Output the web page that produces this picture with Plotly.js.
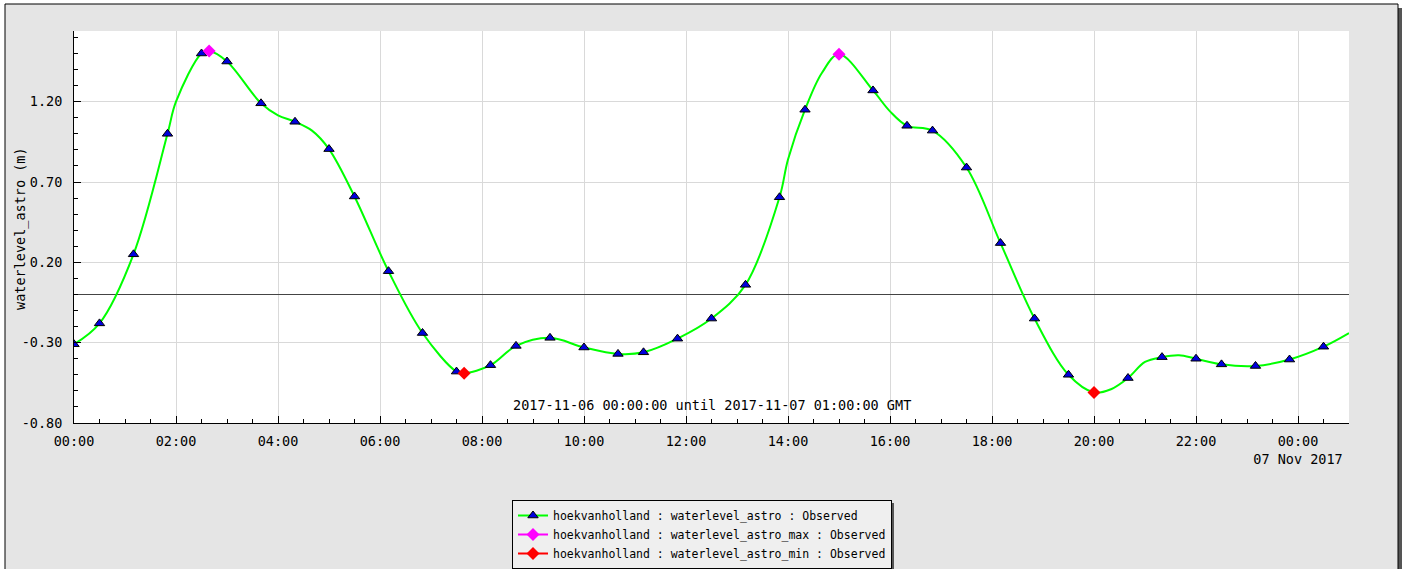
<!DOCTYPE html>
<html>
<head>
<meta charset="utf-8">
<script src="https://cdn.plot.ly/plotly-3.0.1.min.js"></script>
<style>
  html, body { margin: 0; padding: 0; background: #ffffff; overflow: hidden; }
  #chart { width: 1407px; height: 569px; }
</style>
</head>
<body>
<div id="chart"></div>
<script>
// ---- data ----
// observed astro water level, sampled points drawn with triangles
var astroTimes = [
  '2017-11-06 00:00', '2017-11-06 00:30', '2017-11-06 01:10', '2017-11-06 01:50',
  '2017-11-06 02:30', '2017-11-06 03:00', '2017-11-06 03:40', '2017-11-06 04:20',
  '2017-11-06 05:00', '2017-11-06 05:30', '2017-11-06 06:10', '2017-11-06 06:50',
  '2017-11-06 07:30', '2017-11-06 08:10', '2017-11-06 08:40', '2017-11-06 09:20',
  '2017-11-06 10:00', '2017-11-06 10:40', '2017-11-06 11:10', '2017-11-06 11:50',
  '2017-11-06 12:30', '2017-11-06 13:10', '2017-11-06 13:50', '2017-11-06 14:20',
  '2017-11-06 15:40', '2017-11-06 16:20', '2017-11-06 16:50', '2017-11-06 17:30',
  '2017-11-06 18:10', '2017-11-06 18:50', '2017-11-06 19:30', '2017-11-06 20:40',
  '2017-11-06 21:20', '2017-11-06 22:00', '2017-11-06 22:30', '2017-11-06 23:10',
  '2017-11-06 23:50', '2017-11-07 00:30'
];
var astroValues = [
  -0.31, -0.18, 0.25, 1.00,
  1.50, 1.45, 1.19, 1.075,
  0.905, 0.61, 0.145, -0.24,
  -0.48, -0.44, -0.32, -0.27,
  -0.33, -0.37, -0.36, -0.275,
  -0.15, 0.06, 0.605, 1.15,
  1.27, 1.05, 1.02, 0.79,
  0.32, -0.15, -0.50, -0.52,
  -0.39, -0.40, -0.435, -0.445,
  -0.405, -0.325
];
// further points of the same curve (no triangle drawn there)
var curveTimes = [
  '2017-11-06 02:00', '2017-11-06 02:39', '2017-11-06 04:00', '2017-11-06 04:40',
  '2017-11-06 07:39', '2017-11-06 14:00', '2017-11-06 14:40', '2017-11-06 15:00',
  '2017-11-06 16:00', '2017-11-06 20:00', '2017-11-06 20:20', '2017-11-06 21:00',
  '2017-11-06 21:40', '2017-11-07 01:00'
];
var curveValues = [
  1.20, 1.515, 1.115, 1.02,
  -0.49, 0.84, 1.38, 1.495,
  1.14, -0.61, -0.59, -0.42,
  -0.378, -0.24
];
// extremes
var maxTimes = ['2017-11-06 02:39', '2017-11-06 15:00'];
var maxValues = [1.515, 1.495];
var minTimes = ['2017-11-06 07:39', '2017-11-06 20:00'];
var minValues = [-0.49, -0.61];

// axis ticks
var xTickTimes = [
  '2017-11-06 00:00', '2017-11-06 02:00', '2017-11-06 04:00', '2017-11-06 06:00',
  '2017-11-06 08:00', '2017-11-06 10:00', '2017-11-06 12:00', '2017-11-06 14:00',
  '2017-11-06 16:00', '2017-11-06 18:00', '2017-11-06 20:00', '2017-11-06 22:00',
  '2017-11-07 00:00'
];
var xTickLabels = [
  '00:00', '02:00', '04:00', '06:00', '08:00', '10:00', '12:00', '14:00',
  '16:00', '18:00', '20:00', '22:00', '00:00<br>07 Nov 2017'
];
var yTickValues = [-0.80, -0.30, 0.20, 0.70, 1.20];
var yTickLabels = ['-0.80', '-0.30', '0.20', '0.70', '1.20'];

var names = [
  'hoekvanholland : waterlevel_astro : Observed',
  'hoekvanholland : waterlevel_astro_max : Observed',
  'hoekvanholland : waterlevel_astro_min : Observed'
];
var yTitle = 'waterlevel_astro (m)';
var periodText = '2017-11-06 00:00:00 until 2017-11-07 01:00:00 GMT';

// ---- build the curve (triangles + extra points, time-sorted) ----
var pts = [];
astroTimes.forEach(function (t, i) { pts.push({t: t, v: astroValues[i], tri: true}); });
curveTimes.forEach(function (t, i) { pts.push({t: t, v: curveValues[i], tri: false}); });
pts.sort(function (a, b) { return a.t < b.t ? -1 : (a.t > b.t ? 1 : 0); });
var cx = pts.map(function (p) { return p.t; });
var cy = pts.map(function (p) { return p.v; });
var triIdx = [];
pts.forEach(function (p, i) { if (p.tri) triIdx.push(i); });

function gapped(arrT, arrV) {
  var x = [], y = [];
  arrT.forEach(function (t, i) {
    if (i > 0) { x.push(null); y.push(null); }
    x.push(t); y.push(arrV[i]);
  });
  return {x: x, y: y};
}
var mx = gapped(maxTimes, maxValues);
var mn = gapped(minTimes, minValues);

var MONO = 'DejaVu Sans Mono, monospace';

var traces = [
  {
    type: 'scatter', mode: 'lines+markers', name: names[0],
    x: cx, y: cy,
    line: {color: '#00ff00', width: 2, shape: 'spline', smoothing: 1},
    marker: {symbol: 'triangle-up', size: 9, color: '#0000dd', line: {color: '#000000', width: 1}},
    selectedpoints: triIdx,
    selected: {marker: {opacity: 1}},
    unselected: {marker: {opacity: 0}},
    hoverinfo: 'x+y'
  },
  {
    type: 'scatter', mode: 'lines+markers', name: names[1],
    x: mx.x, y: mx.y, connectgaps: false,
    line: {color: '#ff00ff', width: 2},
    marker: {symbol: 'diamond', size: 10, color: '#ff00ff'},
    hoverinfo: 'x+y'
  },
  {
    type: 'scatter', mode: 'lines+markers', name: names[2],
    x: mn.x, y: mn.y, connectgaps: false,
    line: {color: '#ff0000', width: 2},
    marker: {symbol: 'diamond', size: 10, color: '#ff0000'},
    hoverinfo: 'x+y'
  }
];

// pixel -> paper helpers (plot area 74..1349 x 31..423)
var W = 1407, H = 569;
var L = 74, R = 1349, T = 31, B = 423;
function px(v) { return (v - L) / (R - L); }
function py(v) { return (B - v) / (B - T); }

// legend box in pixels (for its shadow)
var LG = {x0: 512, y0: 500, x1: 891, y1: 567};

var layout = {
  width: W, height: H,
  margin: {l: L, r: W - R, t: T, b: H - B, pad: 0, autoexpand: false},
  paper_bgcolor: '#ffffff',
  plot_bgcolor: '#ffffff',
  font: {family: MONO, size: 13.5, color: '#000000'},
  showlegend: true,
  xaxis: {
    type: 'date',
    range: ['2017-11-06 00:00', '2017-11-07 01:00'],
    tickmode: 'array', tickvals: xTickTimes, ticktext: xTickLabels,
    ticks: 'inside', ticklen: 7, tickcolor: '#000000', tickwidth: 1,
    showline: true, linecolor: '#000000', linewidth: 1, mirror: false,
    showgrid: true, gridcolor: '#d9d9d9', gridwidth: 1,
    zeroline: false,
    tickfont: {family: MONO, size: 13.5, color: '#000000'},
    ticklabelstandoff: 6,
    minor: {tickmode: 'linear', tick0: '2017-11-06 00:00', dtick: 1800000,
            ticks: 'inside', ticklen: 4, tickcolor: '#000000', showgrid: false},
    automargin: false,
    fixedrange: true
  },
  yaxis: {
    range: [-0.80, 1.64],
    tickmode: 'array', tickvals: yTickValues, ticktext: yTickLabels,
    ticks: 'inside', ticklen: 7, tickcolor: '#000000', tickwidth: 1,
    showline: true, linecolor: '#000000', linewidth: 1, mirror: false,
    showgrid: true, gridcolor: '#d9d9d9', gridwidth: 1,
    zeroline: true, zerolinecolor: '#444444', zerolinewidth: 1,
    tickfont: {family: MONO, size: 13.5, color: '#000000'},
    ticklabelstandoff: 8,
    minor: {tickmode: 'linear', tick0: -0.8, dtick: 0.1,
            ticks: 'inside', ticklen: 4, tickcolor: '#000000', showgrid: false},
    automargin: false,
    fixedrange: true
  },
  legend: {
    xref: 'container', yref: 'container',
    x: LG.x0 / W, y: (H - LG.y0) / H, xanchor: 'left', yanchor: 'top',
    bgcolor: '#efefef', bordercolor: '#000000', borderwidth: 1,
    font: {family: MONO, size: 11.5, color: '#000000'},
    tracegroupgap: 0
  },
  annotations: [
    {
      text: periodText, xref: 'paper', yref: 'paper',
      x: 0.5, y: py(405), xanchor: 'center', yanchor: 'middle',
      showarrow: false, font: {family: MONO, size: 13.5, color: '#000000'}
    },
    {
      text: yTitle, xref: 'paper', yref: 'paper', textangle: -90,
      x: px(21), y: py(229), xanchor: 'center', yanchor: 'middle',
      showarrow: false, font: {family: MONO, size: 13.5, color: '#000000'}
    }
  ],
  shapes: [
    // frame shadow
    {type: 'rect', xref: 'paper', yref: 'paper', layer: 'below',
     x0: px(8), x1: px(1402), y0: py(620), y1: py(8),
     fillcolor: '#555555', line: {width: 0}},
    // grey frame
    {type: 'rect', xref: 'paper', yref: 'paper', layer: 'below',
     x0: px(5), x1: px(1398), y0: py(620), y1: py(4),
     fillcolor: '#e5e5e5', line: {color: '#000000', width: 1}},
    // white plot area
    {type: 'rect', xref: 'paper', yref: 'paper', layer: 'below',
     x0: 0, x1: 1, y0: 0, y1: 1,
     fillcolor: '#ffffff', line: {width: 0}},
    // legend shadow
    {type: 'rect', xref: 'paper', yref: 'paper', layer: 'below',
     x0: px(LG.x0 + 3), x1: px(LG.x1 + 3), y0: py(LG.y1 + 3), y1: py(LG.y0 + 3),
     fillcolor: '#555555', line: {width: 0}}
  ]
};

Plotly.newPlot('chart', traces, layout, {staticPlot: true, displayModeBar: false});
</script>
</body>
</html>
